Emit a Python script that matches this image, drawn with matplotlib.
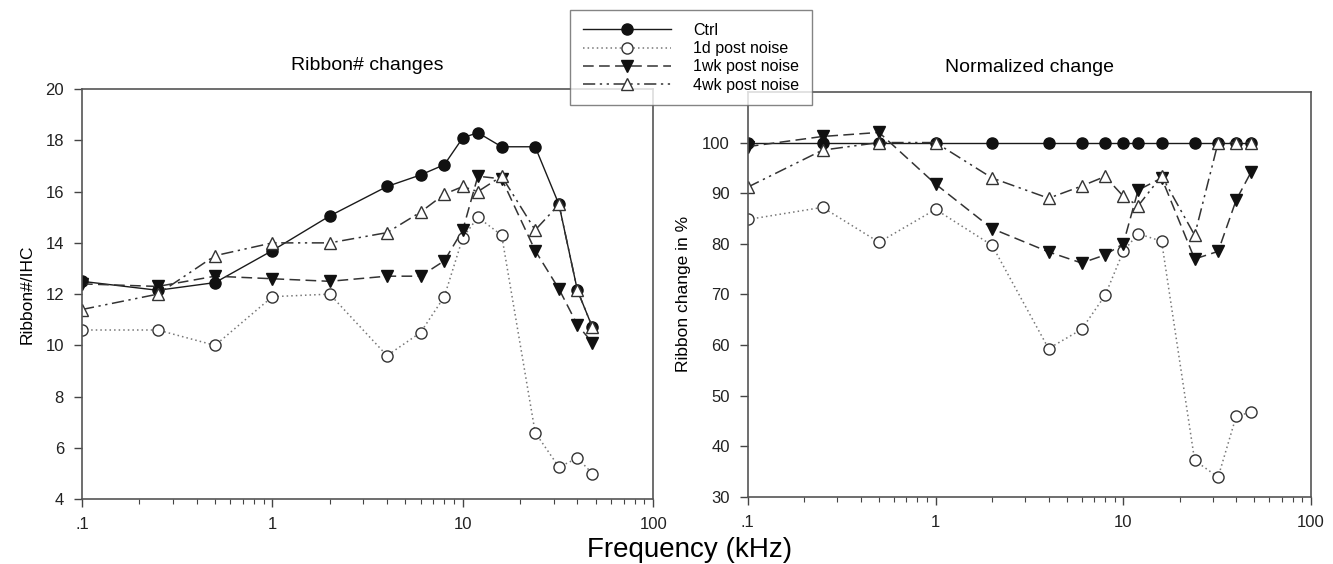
import matplotlib
matplotlib.use("Agg")
import matplotlib.pyplot as plt
from matplotlib.ticker import FixedLocator, FixedFormatter, LogLocator, NullFormatter

plt.rcParams['font.family'] = ['Liberation Sans', 'DejaVu Sans']

freq = [0.1, 0.25, 0.5, 1, 2, 4, 6, 8, 10, 12, 16, 24, 32, 40, 48]

# ribbons per IHC
ctrl = [12.5, 12.15, 12.45, 13.7, 15.05, 16.2, 16.65, 17.05, 18.1, 18.3, 17.75, 17.75, 15.5, 12.15, 10.7]
d1 = [10.6, 10.6, 10.0, 11.9, 12.0, 9.6, 10.5, 11.9, 14.2, 15.0, 14.3, 6.6, 5.25, 5.6, 5.0]
wk1 = [12.4, 12.3, 12.7, 12.6, 12.5, 12.7, 12.7, 13.3, 14.5, 16.6, 16.5, 13.7, 12.2, 10.8, 10.1]
wk4 = [11.4, 12.0, 13.5, 14.0, 14.0, 14.4, 15.2, 15.9, 16.2, 16.0, 16.6, 14.5, 15.5, 12.15, 10.7]

# normalized change in %
ctrl_n = [100] * 15
d1_n = [84.8, 87.2, 80.3, 86.8, 79.7, 59.3, 63.1, 69.8, 78.5, 82.0, 80.5, 37.2, 33.9, 46.0, 46.7]
wk1_n = [99.2, 101.2, 102.0, 91.8, 83.0, 78.4, 76.2, 77.8, 80.0, 90.6, 93.0, 77.0, 78.5, 88.7, 94.2]
wk4_n = [91.2, 98.5, 100.0, 100.0, 93.0, 89.0, 91.4, 93.3, 89.4, 87.5, 93.4, 81.7, 100, 100, 100]

labels = ["Ctrl", "1d post noise", "1wk post noise", "4wk post noise"]

styles = [
    dict(color="#1a1a1a", ls="-", lw=1.0, marker="o", mfc="#111111", mec="#111111"),
    dict(color="#777777", ls=(0, (1, 2)), lw=1.1, marker="o", mfc="white", mec="#333333"),
    dict(color="#333333", ls=(0, (7, 3.5)), lw=1.1, marker="v", mfc="#111111", mec="#111111"),
    dict(color="#333333", ls=(0, (8, 3, 1.5, 3, 1.5, 3)), lw=1.1, marker="^", mfc="white", mec="#333333"),
]

fig = plt.figure(figsize=(13.33, 5.64), dpi=100)
ax1 = fig.add_axes([0.0615, 0.115, 0.4285, 0.727])
ax2 = fig.add_axes([0.561, 0.119, 0.4225, 0.718])

handles = []
for ys, st, lab in zip([ctrl, d1, wk1, wk4], styles, labels):
    h, = ax1.plot(freq, ys, ms=8, mew=1.0, label=lab, **st)
    handles.append(h)
for ys, st in zip([ctrl_n, d1_n, wk1_n, wk4_n], styles):
    ax2.plot(freq, ys, ms=8, mew=1.0, **st)

for ax in (ax1, ax2):
    ax.set_xscale("log")
    ax.set_xlim(0.1, 100)
    ax.xaxis.set_major_locator(FixedLocator([0.1, 1, 10, 100]))
    ax.xaxis.set_major_formatter(FixedFormatter([".1", "1", "10", "100"]))
    ax.xaxis.set_minor_locator(LogLocator(base=10, subs=range(2, 10)))
    ax.xaxis.set_minor_formatter(NullFormatter())
    ax.tick_params(which="major", direction="out", length=6, width=1, colors="#444444", labelsize=12, labelcolor="#222222", pad=7)
    ax.tick_params(which="minor", direction="out", length=3.5, width=0.8, colors="#444444")
    for s in ax.spines.values():
        s.set_color("#555555")
        s.set_linewidth(1.2)

ax1.set_ylim(4, 20)
ax1.set_yticks(range(4, 21, 2))
ax1.set_ylabel("Ribbon#/IHC", fontsize=12.5, labelpad=8)
ax1.set_title("Ribbon# changes", fontsize=14, pad=14)

ax2.set_ylim(30, 110)
ax2.set_yticks(range(30, 101, 10))
ax2.set_ylabel("Ribbon change in %", fontsize=12.5, labelpad=8)
ax2.set_title("Normalized change", fontsize=14, pad=14)

fig.text(0.517, 0.012, "Frequency (kHz)", ha="center", fontsize=20)

leg = fig.legend(handles, labels, loc="upper left", bbox_to_anchor=(0.4276, 0.982),
                 fontsize=11.5, handlelength=5.5, frameon=True, fancybox=False,
                 borderpad=0.8, labelspacing=0.2, handletextpad=1.4, borderaxespad=0)
leg.get_frame().set_edgecolor("#666666")
leg.get_frame().set_linewidth(1.0)
leg.set_zorder(10)

fig.savefig("out.png", dpi=100)
